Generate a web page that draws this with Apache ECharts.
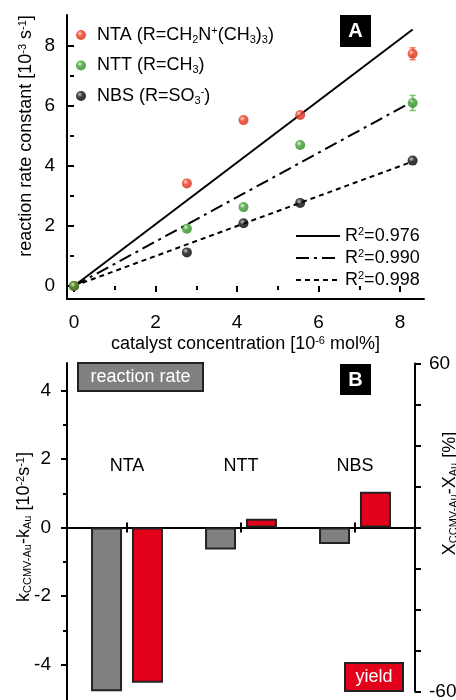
<!DOCTYPE html>
<html>
<head>
<meta charset="utf-8">
<script src="https://cdn.jsdelivr.net/npm/echarts@6/dist/echarts.min.js"></script>
<style>
html, body { margin: 0; padding: 0; background: #fff; }
#chart { width: 456px; height: 700px; }
</style>
</head>
<body>
<div id="chart"></div>
<script>
// panel A: rate constant vs catalyst concentration
var concentration = [0, 2.77, 4.16, 5.55, 8.31];
var ntaRate = [0, 3.42, 5.53, 5.70, 7.74];
var nttRate = [0, 1.91, 2.63, 4.70, 6.10];
var nbsRate = [0, 1.12, 2.09, 2.77, 4.18];
var ntaError = [0, 0, 0, 0, 0.2];
var nttError = [0, 0, 0, 0, 0.25];
var nbsError = [0, 0, 0, 0, 0];
var fitX = [0, 8.31];
var ntaFit = [0, 8.55];
var nttFit = [0, 6.15];
var nbsFit = [0, 4.15];
var fitR2 = ['0.976', '0.990', '0.998'];

// panel B: differences CCMV-Au vs Au
var catalysts = ['NTA', 'NTT', 'NBS'];
var rateDiff = [-4.78, -0.64, -0.48];
var yieldDiff = [-56.8, 3.2, 13.1];

var FONT = '"Liberation Sans", Arial, sans-serif';
var rich = {
    sub: { fontSize: 11, lineHeight: 10, verticalAlign: 'bottom', fontFamily: FONT },
    sup: { fontSize: 11, lineHeight: 10, verticalAlign: 'top', fontFamily: FONT }
};
var legendText = {
    NTA: 'NTA (R=CH{sub|2}N{sup|+}(CH{sub|3}){sub|3})',
    NTT: 'NTT (R=CH{sub|3})',
    NBS: 'NBS (R=SO{sub|3}{sup|-})',
    fitNTA: 'R{sup|2}=' + fitR2[0],
    fitNTT: 'R{sup|2}=' + fitR2[1],
    fitNBS: 'R{sup|2}=' + fitR2[2]
};

function points(ys) {
    return concentration.map(function (x, i) { return [x, ys[i]]; });
}
function errors(ys, es) {
    return concentration.map(function (x, i) { return [x, ys[i], es[i]]; });
}
function fitLine(ys) {
    return fitX.map(function (x, i) { return [x, ys[i]]; });
}
function sphere(light, base, dark) {
    return new echarts.graphic.RadialGradient(0.38, 0.35, 0.6, [
        { offset: 0, color: light }, { offset: 0.45, color: base }, { offset: 1, color: dark }
    ]);
}
function errorBar(color) {
    return function (params, api) {
        var e = api.value(2);
        if (!e) return;
        var x = api.value(0), y = api.value(1);
        var hi = api.coord([x, y + e]), lo = api.coord([x, y - e]);
        var st = { stroke: color, lineWidth: 1.5 };
        return { type: 'group', children: [
            { type: 'line', shape: { x1: hi[0], y1: hi[1], x2: lo[0], y2: lo[1] }, style: st },
            { type: 'line', shape: { x1: hi[0] - 3, y1: hi[1], x2: hi[0] + 3, y2: hi[1] }, style: st },
            { type: 'line', shape: { x1: lo[0] - 3, y1: lo[1], x2: lo[0] + 3, y2: lo[1] }, style: st }
        ]};
    };
}

var tick = { show: true, length: 6, lineStyle: { color: '#000', width: 2 } };
var minor = { show: true, splitNumber: 2, length: 4, lineStyle: { color: '#000', width: 2 } };
var label = { color: '#000', fontSize: 19, fontFamily: FONT };
var nameStyle = { color: '#000', fontSize: 18, fontFamily: FONT, rich: rich };

// frame axes: only lines (and names)
function frameAxis(extra) {
    return Object.assign({
        type: 'value', min: 0, max: 1, nameMoveOverlap: false,
        axisLine: { show: true, onZero: false, lineStyle: { color: '#000', width: 2 } },
        axisTick: { show: false }, axisLabel: { show: false }, splitLine: { show: false }
    }, extra);
}
function hiddenAxis(extra) {
    return Object.assign({ type: 'value', show: false, splitLine: { show: false } }, extra);
}
function grid(l, r, t, b) {
    return { left: l, right: r, top: t, bottom: b, outerBoundsMode: 'none', containLabel: false };
}

var option = {
    animation: false,
    textStyle: { fontFamily: FONT },
    grid: [
        grid(67, 32, 15, 401),         // A frame
        grid(74, 56, 46, 414),         // A data, ticks 0..8
        grid(67, 36, 363, 0),          // B frame
        grid(70, 44, 390.5, 35.5),     // B rate, ticks -4..4
        grid(70, 44, 363.5, 8.5),      // B yield, ticks -60..60
        grid(74, 15.25, 16, 414)       // A fit lines, 0..9 both ways
    ],
    xAxis: [
        frameAxis({ gridIndex: 0, name: 'catalyst concentration [10{sup|-6} mol%]',
            nameLocation: 'middle', nameGap: 36, nameTextStyle: nameStyle }),
        { type: 'value', gridIndex: 1, min: 0, max: 8, interval: 2, offset: 13,
            axisLine: { show: false }, axisTick: tick, minorTick: minor,
            axisLabel: Object.assign({ margin: 14 }, label), splitLine: { show: false } },
        frameAxis({ gridIndex: 2, axisLine: { show: true, onZero: true, lineStyle: { color: '#000', width: 2 } } }),
        { type: 'category', gridIndex: 3, data: catalysts,
            axisLine: { show: false, onZero: true },
            axisTick: { show: true, alignWithLabel: true, length: 5, lineStyle: { color: '#000', width: 2 } },
            axisLabel: { show: false }, splitLine: { show: false } },
        { type: 'category', gridIndex: 4, data: catalysts,
            axisLine: { show: false, onZero: true },
            axisTick: { show: true, inside: true, alignWithLabel: true, length: 5, lineStyle: { color: '#000', width: 2 } },
            axisLabel: { show: false }, splitLine: { show: false } },
        hiddenAxis({ gridIndex: 5, min: 0, max: 9 })
    ],
    yAxis: [
        frameAxis({ gridIndex: 0, name: 'reaction rate constant [10{sup|-3} s{sup|-1}]',
            nameLocation: 'middle', nameGap: 32, nameRotate: 90,
            nameTextStyle: Object.assign({ padding: [0, 0, 0, 42] }, nameStyle) }),
        { type: 'value', gridIndex: 1, min: 0, max: 8, interval: 2, offset: 7,
            axisLine: { show: false }, axisTick: tick, minorTick: minor,
            axisLabel: Object.assign({ margin: 12 }, label), splitLine: { show: false } },
        frameAxis({ gridIndex: 2, min: -5.036, max: 4.803,
            name: 'k{sub|CCMV-Au}-k{sub|Au} [10{sup|-2}s{sup|-1}]',
            nameLocation: 'middle', nameGap: 34, nameRotate: 90,
            nameTextStyle: Object.assign({ padding: [0, 0, 0, 9] }, nameStyle) }),
        { type: 'value', gridIndex: 3, min: -4, max: 4, interval: 2, offset: 3,
            axisLine: { show: false }, axisTick: tick, minorTick: minor,
            axisLabel: Object.assign({ margin: 16 }, label), splitLine: { show: false } },
        { type: 'value', gridIndex: 4, position: 'right', min: -60, max: 60, interval: 15, offset: 3,
            axisLine: { show: true, onZero: false, lineStyle: { color: '#000', width: 2 } },
            axisTick: tick,
            axisLabel: Object.assign({ margin: 14, formatter: function (v) {
                return Math.abs(v) === 60 ? String(v) : '';
            } }, label),
            splitLine: { show: false },
            name: 'X{sub|CCMV-Au}-X{sub|Au} [%]', nameLocation: 'middle', nameGap: 26, nameRotate: 90,
            nameMoveOverlap: false,
            nameTextStyle: Object.assign({ padding: [0, 0, 0, 68] }, nameStyle) },
        hiddenAxis({ gridIndex: 5, min: 0, max: 9 })
    ],
    legend: [
        { data: ['NTA', 'NTT', 'NBS'], orient: 'vertical', left: 71, top: 20,
            icon: 'circle', itemWidth: 22, itemHeight: 10, itemGap: 10.5,
            formatter: function (n) { return legendText[n]; },
            textStyle: { color: '#000', fontSize: 18, lineHeight: 20, fontFamily: FONT, rich: rich } },
        { data: ['fitNTA', 'fitNTT', 'fitNBS'], orient: 'vertical', left: 290, top: 221,
            itemWidth: 44, itemHeight: 2, itemGap: 2, itemStyle: { opacity: 0 },
            formatter: function (n) { return legendText[n]; },
            textStyle: { color: '#000', fontSize: 18, lineHeight: 20, fontFamily: FONT, rich: rich } }
    ],
    graphic: [
        { type: 'rect', left: 340, top: 15, shape: { width: 31, height: 32 }, style: { fill: '#000' } },
        { type: 'text', x: 355.5, y: 31, style: { text: 'A', fill: '#fff', font: 'bold 20px ' + FONT, align: 'center', verticalAlign: 'middle' } },
        { type: 'rect', left: 340, top: 364, shape: { width: 31, height: 31 }, style: { fill: '#000' } },
        { type: 'text', x: 355.5, y: 380, style: { text: 'B', fill: '#fff', font: 'bold 20px ' + FONT, align: 'center', verticalAlign: 'middle' } },
        { type: 'rect', shape: { x: 78, y: 363, width: 125, height: 28 }, style: { fill: '#808080', stroke: '#222', lineWidth: 2 } },
        { type: 'text', x: 140.5, y: 377, style: { text: 'reaction rate', fill: '#fff', font: '18px ' + FONT, align: 'center', verticalAlign: 'middle' } },
        { type: 'rect', shape: { x: 345, y: 663, width: 58, height: 28 }, style: { fill: '#e3001b', stroke: '#222', lineWidth: 2 } },
        { type: 'text', x: 374, y: 677, style: { text: 'yield', fill: '#fff', font: '18px ' + FONT, align: 'center', verticalAlign: 'middle' } }
    ],
    series: [
        { name: 'fitNTA', type: 'line', xAxisIndex: 5, yAxisIndex: 5, data: fitLine(ntaFit), symbol: 'none',
            z: 2, itemStyle: { color: '#000' }, lineStyle: { color: '#000', width: 2, type: 'solid' } },
        { name: 'fitNTT', type: 'line', xAxisIndex: 5, yAxisIndex: 5, data: fitLine(nttFit), symbol: 'none',
            z: 2, itemStyle: { color: '#000' }, lineStyle: { color: '#000', width: 2, type: [13, 5, 3, 5] } },
        { name: 'fitNBS', type: 'line', xAxisIndex: 5, yAxisIndex: 5, data: fitLine(nbsFit), symbol: 'none',
            z: 2, itemStyle: { color: '#000' }, lineStyle: { color: '#000', width: 2, type: [5, 4] } },
        { type: 'custom', xAxisIndex: 1, yAxisIndex: 1, data: errors(ntaRate, ntaError), renderItem: errorBar('#f07a68'),
            encode: { x: 0, y: 1 }, clip: false, z: 3, silent: true },
        { type: 'custom', xAxisIndex: 1, yAxisIndex: 1, data: errors(nttRate, nttError), renderItem: errorBar('#7cc070'),
            encode: { x: 0, y: 1 }, clip: false, z: 3, silent: true },
        { type: 'custom', xAxisIndex: 1, yAxisIndex: 1, data: errors(nbsRate, nbsError), renderItem: errorBar('#555'),
            encode: { x: 0, y: 1 }, clip: false, z: 3, silent: true },
        { name: 'NBS', type: 'scatter', xAxisIndex: 1, yAxisIndex: 1, data: points(nbsRate), symbolSize: 10,
            clip: false, z: 4, itemStyle: { color: sphere('#bbbbbb', '#111', '#000') } },
        { name: 'NTA', type: 'scatter', xAxisIndex: 1, yAxisIndex: 1, data: points(ntaRate), symbolSize: 10,
            clip: false, z: 4, itemStyle: { color: sphere('#ffd0c4', '#f03a22', '#d42c14') } },
        { name: 'NTT', type: 'scatter', xAxisIndex: 1, yAxisIndex: 1, data: points(nttRate), symbolSize: 10,
            clip: false, z: 4, itemStyle: { color: sphere('#d6f5c8', '#3fa034', '#2e8a24') } },

        { name: 'reaction rate', type: 'bar', xAxisIndex: 3, yAxisIndex: 3, data: rateDiff,
            barWidth: 31, barGap: '32%', clip: false,
            itemStyle: { color: '#808080', borderColor: '#222', borderWidth: 2 } },
        { type: 'bar', xAxisIndex: 3, yAxisIndex: 3, data: catalysts.map(function () { return '-'; }),
            barWidth: 31, barGap: '32%' },
        { type: 'bar', xAxisIndex: 4, yAxisIndex: 4, data: catalysts.map(function () { return '-'; }),
            barWidth: 31, barGap: '32%' },
        { name: 'yield', type: 'bar', xAxisIndex: 4, yAxisIndex: 4, data: yieldDiff,
            barWidth: 31, barGap: '32%', clip: false,
            itemStyle: { color: '#e3001b', borderColor: '#222', borderWidth: 2 } },
        { type: 'scatter', xAxisIndex: 3, yAxisIndex: 3, data: catalysts.map(function () { return 1.8; }),
            symbolSize: 1, itemStyle: { color: 'rgba(0,0,0,0)' }, silent: true,
            label: { show: true, position: 'inside', formatter: '{b}', color: '#000', opacity: 1,
                textBorderWidth: 0, fontSize: 18, fontFamily: FONT } }
    ]
};

var chart = echarts.init(document.getElementById('chart'));
chart.setOption(option);
</script>
</body>
</html>
